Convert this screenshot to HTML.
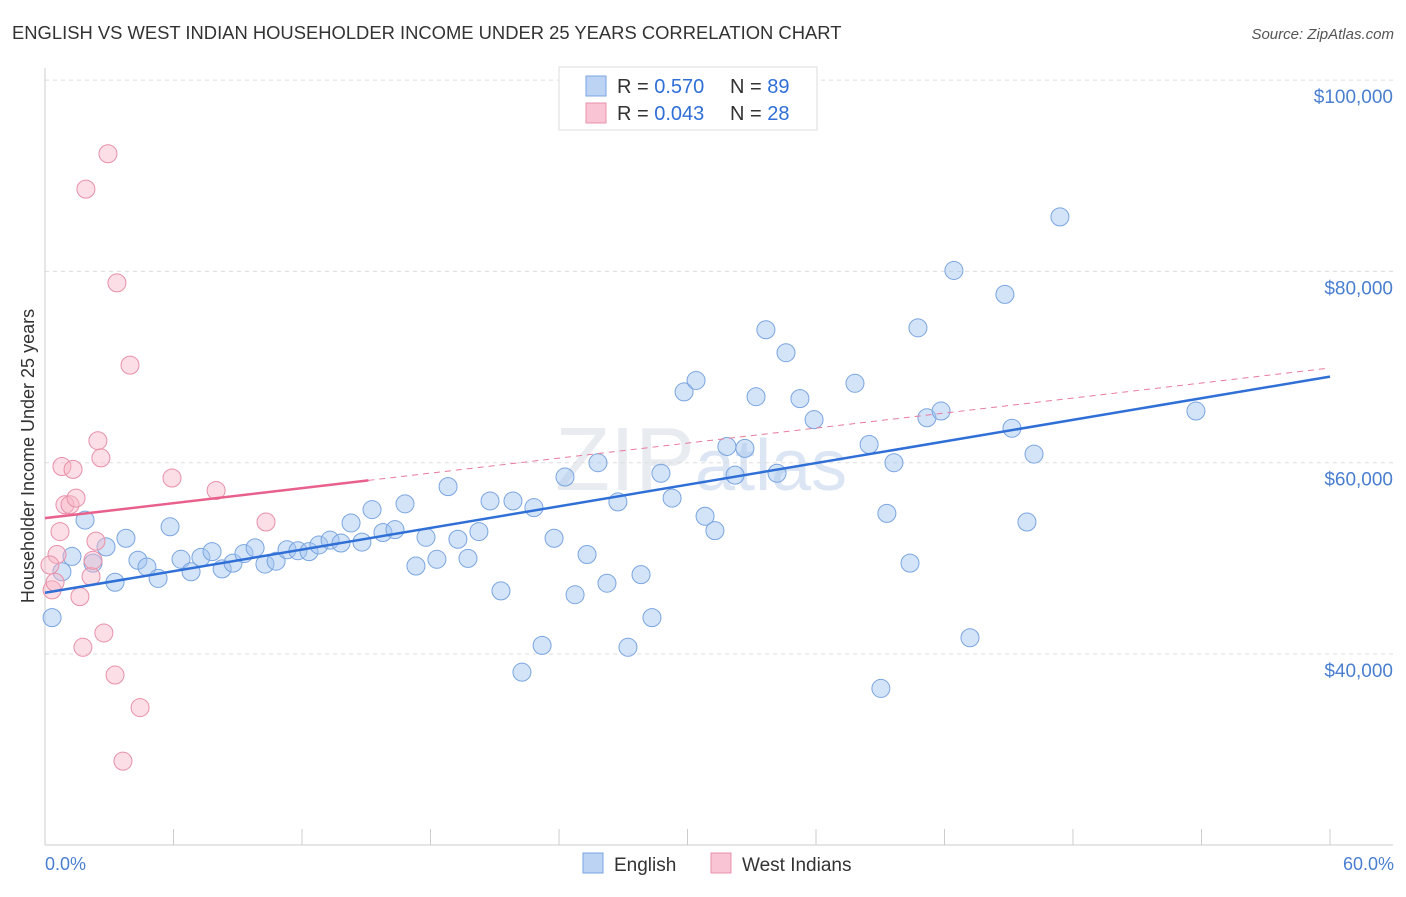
<!DOCTYPE html>
<html><head><meta charset="utf-8"><style>
body{margin:0;background:#fff;font-family:"Liberation Sans",sans-serif;}
svg text{font-family:"Liberation Sans",sans-serif;}
</style></head><body>
<svg id="chart" width="1406" height="892" xmlns="http://www.w3.org/2000/svg">
<text x="12" y="39" font-size="18.4" fill="#333">ENGLISH VS WEST INDIAN HOUSEHOLDER INCOME UNDER 25 YEARS CORRELATION CHART</text>
<text x="1394" y="39" font-size="15" fill="#555" text-anchor="end" font-style="italic">Source: ZipAtlas.com</text>
<text x="555" y="490" font-size="90" fill="#e8ebf0" font-family="Liberation Serif">ZIP<tspan fill="#dbe5f3" font-family="Liberation Sans" font-size="72">atlas</tspan></text>
<g id="grid"></g><g id="axes"></g><g id="marks"></g>
<text transform="translate(34,456) rotate(-90)" font-size="18" fill="#333" text-anchor="middle">Householder Income Under 25 years</text>
<text x="45" y="870" font-size="18" fill="#4a7fd0">0.0%</text>
<text x="1394" y="870" font-size="18" fill="#4a7fd0" text-anchor="end">60.0%</text>
<g>
<rect x="559" y="67" width="258" height="63" fill="#fff" stroke="#ddd"/>
<rect x="586" y="76" width="20" height="20" fill="#bcd3f3" stroke="#7aa5e0"/>
<rect x="586" y="103" width="20" height="20" fill="#f9c4d3" stroke="#e890a8"/>
<text x="617" y="93" font-size="20" fill="#333">R = <tspan fill="#2f6fd6">0.570</tspan></text>
<text x="730" y="93" font-size="20" fill="#333">N = <tspan fill="#2f6fd6">89</tspan></text>
<text x="617" y="120" font-size="20" fill="#333">R = <tspan fill="#2f6fd6">0.043</tspan></text>
<text x="730" y="120" font-size="20" fill="#333">N = <tspan fill="#2f6fd6">28</tspan></text>
</g>
<g>
<rect x="583" y="853" width="20" height="20" fill="#bcd3f3" stroke="#7aa5e0"/>
<text x="614" y="871" font-size="19" fill="#333">English</text>
<rect x="711" y="853" width="20" height="20" fill="#f9c4d3" stroke="#e890a8"/>
<text x="742" y="871" font-size="19" fill="#333">West Indians</text>
</g>
</svg>
<script>
const yTicks=[40,60,80,100];
const yTickLabels=["$40,000","$60,000","$80,000","$100,000"];
const englishX=[0.33,0.79,1.26,1.87,2.24,2.85,3.27,3.78,4.34,4.76,5.28,5.84,6.35,6.82,7.28,7.80,8.27,8.78,9.29,9.81,10.27,10.79,11.30,11.81,12.33,12.79,13.31,13.82,14.29,14.80,15.27,15.78,16.34,16.81,17.32,17.79,18.30,18.82,19.28,19.75,20.26,20.78,21.29,21.85,22.27,22.83,23.21,23.77,24.28,24.75,25.31,25.82,26.24,26.75,27.22,27.83,28.34,28.76,29.28,29.84,30.40,30.82,31.28,31.84,32.22,32.68,33.20,33.66,34.18,34.60,35.25,35.91,37.82,38.48,39.03,39.31,39.64,40.39,40.76,41.18,41.84,42.44,43.19,44.82,45.15,45.85,46.18,47.39,53.74];
const englishY=[43.8,48.6,50.2,54.0,49.5,51.2,47.5,52.1,49.8,49.1,47.9,53.3,49.9,48.6,50.1,50.7,48.9,49.5,50.5,51.1,49.4,49.7,50.9,50.8,50.7,51.4,51.9,51.6,53.7,51.7,55.1,52.7,53.0,55.7,49.2,52.2,49.9,57.5,52.0,50.0,52.8,56.0,46.6,56.0,38.1,55.3,40.9,52.1,58.5,46.2,50.4,60.0,47.4,55.9,40.7,48.3,43.8,58.9,56.3,67.4,68.6,54.4,52.9,61.7,58.7,61.5,66.9,73.9,58.9,71.5,66.7,64.5,68.3,61.9,36.4,54.7,60.0,49.5,74.1,64.7,65.4,80.1,41.7,77.6,63.6,53.8,60.9,85.7,65.4];
const westX=[0.33,0.47,0.56,0.70,0.79,0.93,1.17,1.31,1.45,1.77,1.91,2.15,2.24,2.38,2.47,2.61,2.75,2.94,3.27,3.36,3.64,3.97,4.44,5.93,7.99,10.32,1.63,0.23];
const westY=[46.7,47.5,50.4,52.8,59.6,55.6,55.6,59.3,56.3,40.7,88.6,48.1,49.8,51.8,62.3,60.5,42.2,92.3,37.8,78.8,28.8,70.2,34.4,58.4,57.1,53.8,46.0,49.3];
const englishTrend=[46.4,69.0];
const westTrend=[54.2,69.9];
const westSolidEnd=15.1;
const NS="http://www.w3.org/2000/svg";
const X=v=>45+v*1285/60;
const Y=v=>654-(v-40)*191.3/20;
function mk(p,t,a){const e=document.createElementNS(NS,t);for(const k in a)e.setAttribute(k,a[k]);document.getElementById(p).appendChild(e);return e;}
yTicks.forEach((t,i)=>{
 const g=mk('grid','line',{x1:45,x2:1393,y1:Y(t),y2:Y(t),stroke:'#ddd','stroke-dasharray':'4,4'});
 
 
 const l=mk('grid','text',{x:1393,y:Y(t)+23,'font-size':19,fill:'#4a7fd0','text-anchor':'end'});
 l.textContent=yTickLabels[i];
 
 
});
const ax=mk('axes','line',{x1:45,x2:45,y1:68,y2:845,stroke:'#ccc'});


const bx=mk('axes','line',{x1:45,x2:1393,y1:845,y2:845,stroke:'#ccc'});


for(let k=0;k<=10;k++){
 const t=mk('axes','line',{x1:X(k*6),x2:X(k*6),y1:829,y2:845,stroke:'#ccc'});
 
 
}
englishX.forEach((x,i)=>{
 const c=mk('marks','circle',{cx:X(x),cy:Y(englishY[i]),r:9,fill:'rgba(160,196,240,0.45)',stroke:'#7aa5e0','stroke-width':1});
 
 
});
westX.forEach((x,i)=>{
 const c=mk('marks','circle',{cx:X(x),cy:Y(westY[i]),r:9,fill:'rgba(247,182,200,0.45)',stroke:'#e890a8','stroke-width':1});
 
 
});
const wf=v=>westTrend[0]+(westTrend[1]-westTrend[0])*v/60;
const d=mk('marks','line',{x1:X(westSolidEnd),y1:Y(wf(westSolidEnd)),x2:X(60),y2:Y(westTrend[1]),stroke:'#e87a9c','stroke-width':1,'stroke-dasharray':'6,5'});


const s=mk('marks','line',{x1:X(0),y1:Y(westTrend[0]),x2:X(westSolidEnd),y2:Y(wf(westSolidEnd)),stroke:'#e8608c','stroke-width':2.5});


const b=mk('marks','line',{x1:X(0),y1:Y(englishTrend[0]),x2:X(60),y2:Y(englishTrend[1]),stroke:'#2f6fd6','stroke-width':2.5});


</script>
</body></html>
